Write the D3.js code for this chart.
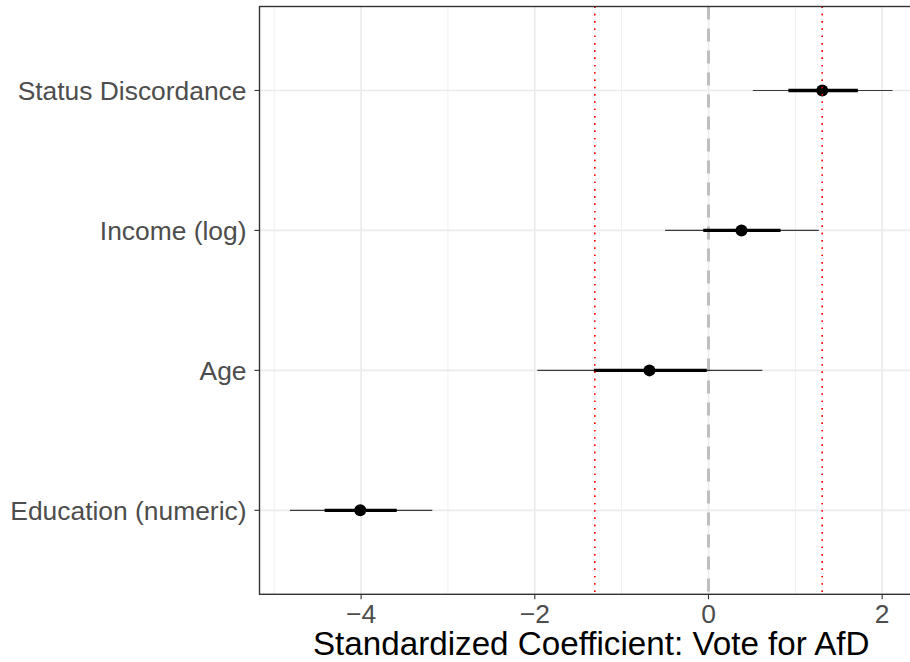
<!DOCTYPE html>
<html>
<head>
<meta charset="utf-8">
<script src="https://cdn.jsdelivr.net/npm/d3@7"></script>
<style>
  body { margin: 0; background: #fff; }
  svg { display: block; font-family: "Liberation Sans", Arial, sans-serif; }
</style>
</head>
<body>
<div id="chart"></div>
<script>
// coefficient estimates
var terms = ["Status Discordance", "Income (log)", "Age", "Education (numeric)"];
var estimate = [1.31, 0.38, -0.68, -4.01];
var innerLo = [0.92, -0.06, -1.32, -4.42];
var innerHi = [1.72, 0.83, -0.02, -3.59];
var outerLo = [0.51, -0.50, -1.97, -4.82];
var outerHi = [2.12, 1.27, 0.62, -3.18];
var xTicks = [-4, -2, 0, 2];
var critLines = [-1.31, 1.31];

var data = terms.map(function(t, i) {
  return {term: t, est: estimate[i], lo1: innerLo[i], hi1: innerHi[i], lo2: outerLo[i], hi2: outerHi[i]};
});

var W = 910, H = 662;
var margin = {top: 6.5, right: -13, bottom: 67.7, left: 259.5},
    width = W - margin.left - margin.right,
    height = H - margin.top - margin.bottom;

var svg = d3.select("#chart").append("svg")
    .attr("width", W)
    .attr("height", H);

var g = svg.append("g")
    .attr("transform", "translate(" + margin.left + "," + margin.top + ")");

var x = d3.scaleLinear().domain([-5.17, 2.47]).range([0, width]);
// discrete axis with ggplot-style 0.6 expansion
var y = d3.scaleLinear().domain([0.4, 4.6]).range([height, 0]);
function yPos(i) { return y(terms.length - i); }

// grid
var minor = d3.range(-5, 3, 1).filter(function(v) { return xTicks.indexOf(v) < 0; });
g.selectAll(".minor").data(minor).enter().append("line")
  .attr("x1", d => x(d)).attr("x2", d => x(d))
  .attr("y1", 0).attr("y2", height)
  .attr("stroke", "#ebebeb").attr("stroke-width", 0.8);
g.selectAll(".major").data(xTicks).enter().append("line")
  .attr("x1", d => x(d)).attr("x2", d => x(d))
  .attr("y1", 0).attr("y2", height)
  .attr("stroke", "#ebebeb").attr("stroke-width", 1.6);
g.selectAll(".hgrid").data(terms).enter().append("line")
  .attr("x1", 0).attr("x2", width)
  .attr("y1", (d, i) => yPos(i)).attr("y2", (d, i) => yPos(i))
  .attr("stroke", "#ebebeb").attr("stroke-width", 1.6);

// zero line
g.append("line")
  .attr("x1", x(0)).attr("x2", x(0))
  .attr("y1", 0).attr("y2", height)
  .attr("stroke", "#bebebe").attr("stroke-width", 3)
  .attr("stroke-dasharray", "13,9");

// red dotted critical lines
g.selectAll(".crit").data(critLines).enter().append("line")
  .attr("x1", d => x(d)).attr("x2", d => x(d))
  .attr("y1", 0).attr("y2", height)
  .attr("stroke", "#ff0000").attr("stroke-width", 1.4)
  .attr("stroke-dasharray", "1.4,5.9");

// intervals
var rows = g.selectAll(".row").data(data).enter().append("g");
rows.append("line")
  .attr("x1", d => x(d.lo2)).attr("x2", d => x(d.hi2))
  .attr("y1", (d, i) => yPos(i)).attr("y2", (d, i) => yPos(i))
  .attr("stroke", "#000").attr("stroke-opacity", 0.75).attr("stroke-width", 1.1);
rows.append("line")
  .attr("x1", d => x(d.lo1)).attr("x2", d => x(d.hi1))
  .attr("y1", (d, i) => yPos(i)).attr("y2", (d, i) => yPos(i))
  .attr("stroke", "#000").attr("stroke-width", 3.4);
rows.append("circle")
  .attr("cx", d => x(d.est)).attr("cy", (d, i) => yPos(i))
  .attr("r", 6).attr("fill", "#000");

// red dots drawn again over the points, like the reference
g.selectAll(".crit2").data(critLines).enter().append("line")
  .attr("x1", d => x(d)).attr("x2", d => x(d))
  .attr("y1", 0).attr("y2", height)
  .attr("stroke", "#ff0000").attr("stroke-width", 1.4)
  .attr("stroke-dasharray", "1.4,5.9");

// panel border
g.append("rect")
  .attr("x", 0).attr("y", 0)
  .attr("width", width).attr("height", height)
  .attr("fill", "none").attr("stroke", "#333").attr("stroke-width", 1.4);

// x axis
var xAxis = g.append("g").attr("transform", "translate(0," + height + ")");
xAxis.selectAll(".tick").data(xTicks).enter().append("line")
  .attr("x1", d => x(d)).attr("x2", d => x(d))
  .attr("y1", 0).attr("y2", 5)
  .attr("stroke", "#333").attr("stroke-width", 1.1);
xAxis.selectAll(".lab").data(xTicks).enter().append("text")
  .attr("x", d => x(d)).attr("y", 28.5)
  .attr("text-anchor", "middle")
  .attr("fill", "#4d4d4d").attr("font-size", 26.4)
  .text(d => d < 0 ? "\u2212" + Math.abs(d) : d);

// y axis
g.selectAll(".ytick").data(terms).enter().append("line")
  .attr("x1", -5).attr("x2", 0)
  .attr("y1", (d, i) => yPos(i)).attr("y2", (d, i) => yPos(i))
  .attr("stroke", "#333").attr("stroke-width", 1.1);
g.selectAll(".ylab").data(terms).enter().append("text")
  .attr("x", -13).attr("y", (d, i) => yPos(i))
  .attr("dy", "0.36em")
  .attr("text-anchor", "end")
  .attr("fill", "#4d4d4d").attr("font-size", 26.4)
  .text(d => d);

// axis title, centred on the panel
svg.append("text")
  .attr("x", margin.left + width / 2)
  .attr("y", 655)
  .attr("text-anchor", "middle")
  .attr("fill", "#000").attr("font-size", 33.2)
  .text("Standardized Coefficient: Vote for AfD");
</script>
</body>
</html>
